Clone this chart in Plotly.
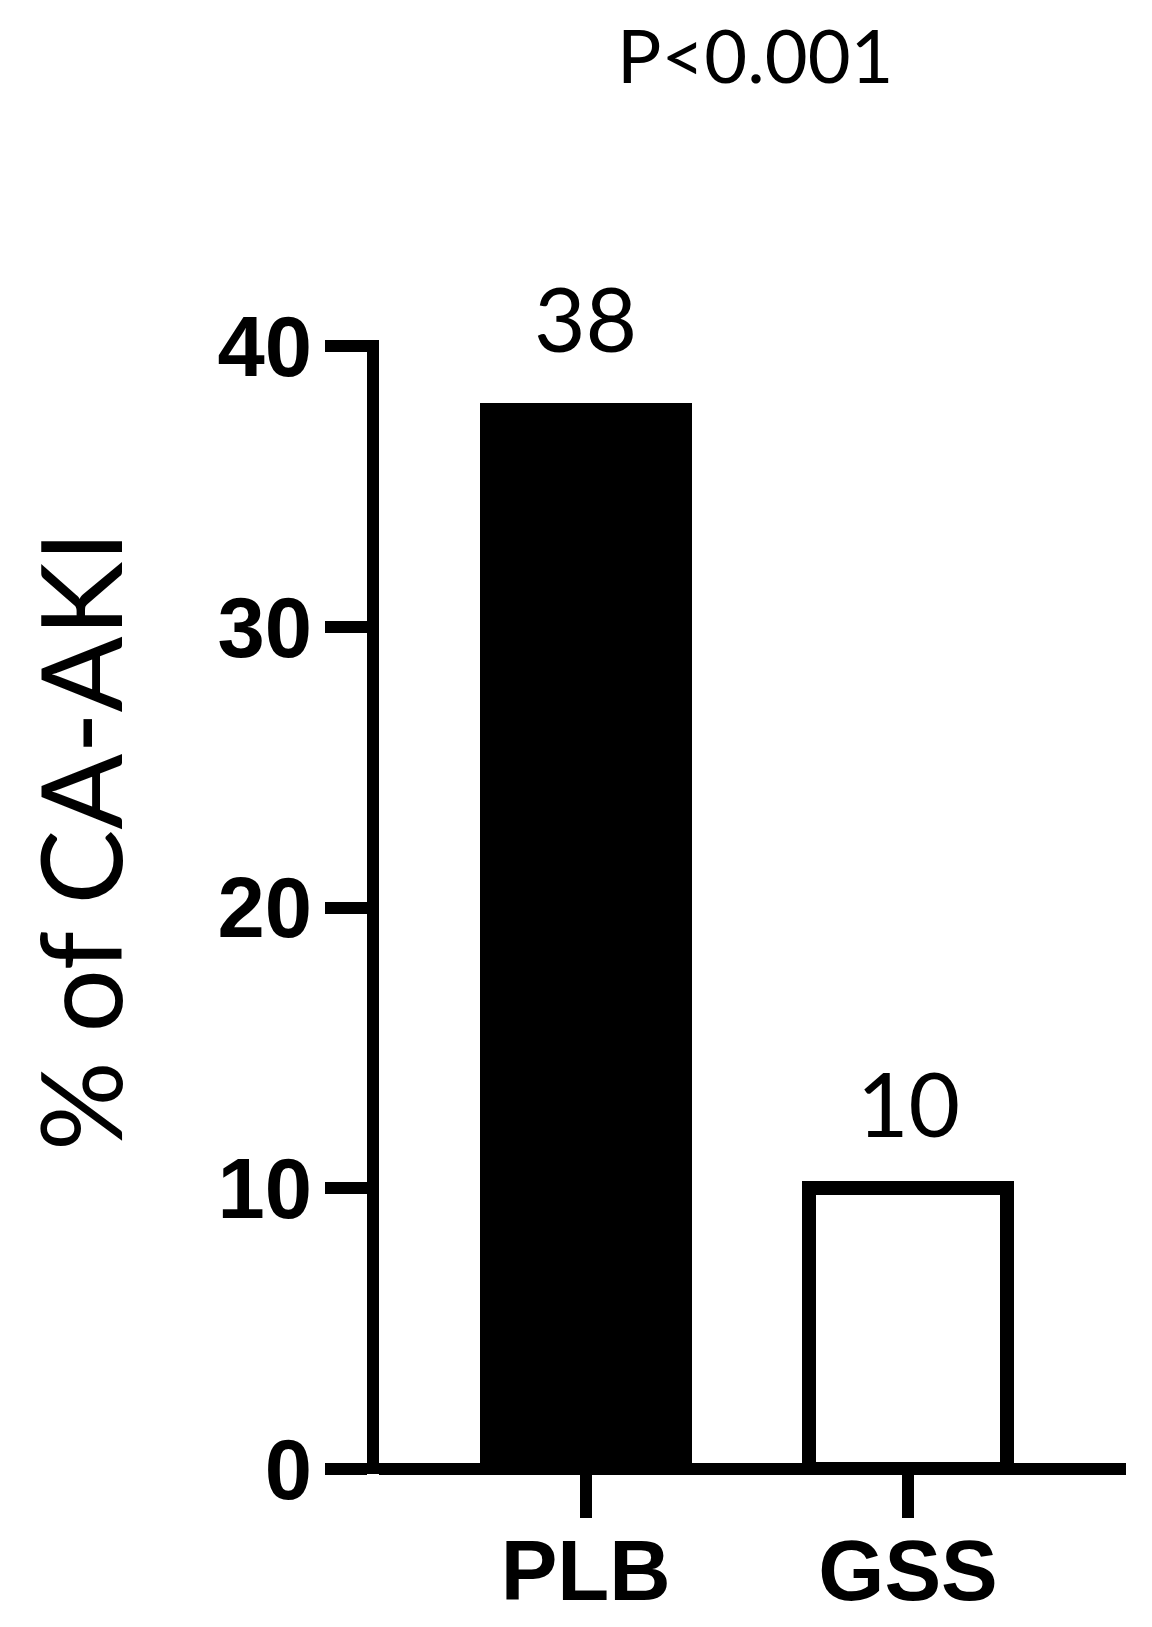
import plotly.graph_objects as go

categories = ["PLB", "GSS"]
values = [38, 10]
value_labels = ["38", "10"]
fill_colors = ["black", "white"]
bar_widths = [0.658, 0.614]
line_widths = [0, 14]
y_tickvals = [0, 10, 20, 30, 40]
y_title = "% of CA-AKI"
p_text = "P<0.001"

PLOT_TOP, PLOT_BOTTOM, PLOT_LEFT, PLOT_RIGHT = 340, 1474, 379, 1126
PH = PLOT_BOTTOM - PLOT_TOP
PW = PLOT_RIGHT - PLOT_LEFT

fig = go.Figure()
fig.add_trace(go.Bar(
    x=categories, y=values, width=bar_widths,
    marker=dict(color=fill_colors, line=dict(color="black", width=line_widths)),
    showlegend=False, hoverinfo="skip",
))

for c, v, t in zip(categories, values, value_labels):
    fig.add_annotation(x=c, y=v, text=t, showarrow=False, yanchor="bottom",
                       yshift=30, font=dict(family="Lato", size=89, color="black"))

fig.add_annotation(xref="paper", yref="paper", x=(755 - PLOT_LEFT) / PW, y=(PLOT_BOTTOM - 55) / PH,
                   text=p_text, showarrow=False, xanchor="center", yanchor="middle",
                   font=dict(family="Lato", size=74, color="black"))

fig.add_annotation(xref="paper", yref="paper", x=(78 - PLOT_LEFT) / PW, y=(PLOT_BOTTOM - 841) / PH,
                   text=y_title, showarrow=False, textangle=-90, xanchor="center", yanchor="middle",
                   font=dict(family="Lato", size=112, color="black"))

fig.update_layout(
    width=1152, height=1627,
    margin=dict(l=PLOT_LEFT, r=1152 - PLOT_RIGHT, t=PLOT_TOP, b=1627 - PLOT_BOTTOM, pad=0, autoexpand=False),
    plot_bgcolor="white", paper_bgcolor="white",
    bargap=0,
)
fig.update_xaxes(
    type="category", range=[-0.641, 1.676], automargin=False,
    showline=False, showgrid=False, zeroline=False,
    ticks="outside", ticklen=43, tickwidth=12, tickcolor="black",
    ticklabelstandoff=-20,
    tickfont=dict(family="Liberation Sans", size=85, color="black", weight="bold"),
)
fig.update_yaxes(
    range=[-0.18, 40.23], automargin=False,
    tickvals=y_tickvals,
    showline=True, linewidth=12, linecolor="black",
    showgrid=False, zeroline=True, zerolinewidth=12, zerolinecolor="black",
    ticks="outside", ticklen=42, tickwidth=12, tickcolor="black",
    ticklabelstandoff=-4,
    tickfont=dict(family="Liberation Sans", size=85, color="black", weight="bold"),
)

fig.write_html("out.html", config={"displayModeBar": False},
               post_script="document.body.style.margin='0';document.body.style.padding='0';")
